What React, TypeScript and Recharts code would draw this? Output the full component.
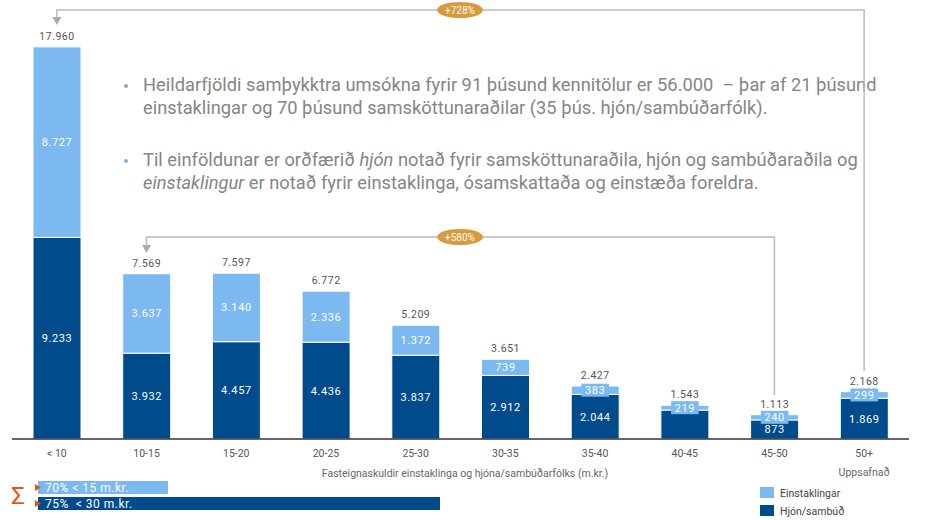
import React from 'react';
import { BarChart, Bar, XAxis, YAxis, LabelList } from 'recharts';

const categories = ['< 10', '10-15', '15-20', '20-25', '25-30', '30-35', '35-40', '40-45', '45-50', '50+'];
const hjon = [9233, 3932, 4457, 4436, 3837, 2912, 2044, 1324, 873, 1869];
const einstaklingar = [8727, 3637, 3140, 2336, 1372, 739, 383, 219, 240, 299];
const totals = [17960, 7569, 7597, 6772, 5209, 3651, 2427, 1543, 1113, 2168];
// the source leaves the 40-45 couples segment unlabelled
const hjonLabelShown = [true, true, true, true, true, true, true, false, true, true];

const DARK = '#004B8C';
const LIGHT = '#7CB9F1';
const FONT = 'Roboto, "Open Sans", sans-serif';

const W = 941;
const H = 520;
const M = { top: 46, right: 32, left: 12, bottom: 51 };
const band = (W - M.left - M.right) / categories.length;
const cx = (i: number) => M.left + band * (i + 0.5);

const fmt = (v: number) => String(v).replace(/\B(?=(\d{3})+(?!\d))/g, '.');

const data = categories.map((name, i) => ({
  name,
  hjon: hjon[i],
  einst: einstaklingar[i],
  total: totals[i],
  hjonLabel: hjonLabelShown[i] ? hjon[i] : null,
}));

const SegLabel = (props: any) => {
  const { x, y, width, height, value } = props;
  if (value == null) return null;
  const mx = x + width / 2;
  const my = y + height / 2;
  const txt = fmt(value);
  const small = height < 14;
  return (
    <g>
      {small && (
        <rect x={mx - txt.length * 3.6 - 3} y={my - 6.5} width={txt.length * 7.2 + 6} height={13} fill={LIGHT} />
      )}
      <text x={mx} y={my} dy={4} textAnchor="middle" fill="#fff" fontSize={11} fontFamily={FONT} letterSpacing={0.6}>
        {txt}
      </text>
    </g>
  );
};

const TotalLabel = (props: any) => {
  const { x, y, width, value } = props;
  return (
    <text x={x + width / 2} y={y - 11} dy={4} textAnchor="middle" fill="#555" fontSize={10.5} fontFamily={FONT} letterSpacing={0.5}>
      {fmt(value)}
    </text>
  );
};

const Pill = ({ x, y, label }: { x: number; y: number; label: string }) => (
  <g>
    <ellipse cx={x} cy={y} rx={23} ry={8} fill="#D99A3C" />
    <text x={x} y={y} dy={3.5} textAnchor="middle" fill="#fff" fontSize={10} fontFamily={FONT}>
      {label}
    </text>
  </g>
);

const Bracket = ({ from, to, y, tip, end }: { from: number; to: number; y: number; tip: number; end: number }) => {
  const x1 = cx(from);
  const x2 = cx(to);
  return (
    <g>
      <path d={`M${x1},${tip - 7} L${x1},${y} L${x2},${y} L${x2},${end}`} fill="none" stroke="#bbb" strokeWidth={1.5} />
      <path d={`M${x1 - 4.5},${tip - 8} L${x1 + 4.5},${tip - 8} L${x1},${tip} Z`} fill="#aaa" />
    </g>
  );
};

const bulletStyle: React.CSSProperties = {
  position: 'absolute',
  left: 143,
  fontFamily: FONT,
  fontSize: 18.3,
  lineHeight: '23px',
  color: '#858585',
  whiteSpace: 'nowrap',
};

const Dot = ({ top, color }: { top: number; color: string }) => (
  <div style={{ position: 'absolute', left: 124, top, width: 4, height: 4, borderRadius: 2, background: color }} />
);

const App: React.FC = () => {
  return (
    <div style={{ position: 'absolute', left: 0, top: 0, width: W, height: H, background: '#fff', overflow: 'hidden' }}>
      <BarChart width={W} height={H} data={data} margin={M} barSize={48}>
        <XAxis
          dataKey="name"
          height={30}
          axisLine={{ stroke: '#333', strokeWidth: 1.5 }}
          tickLine={false}
          tick={{ fill: '#555', fontSize: 10.5, fontFamily: FONT }}
          tickMargin={5}
        />
        <YAxis hide domain={[0, 18000]} />
        <Bar dataKey="hjon" stackId="a" fill={DARK} stroke="#fff" strokeWidth={1} isAnimationActive={false}>
          <LabelList dataKey="hjonLabel" content={SegLabel} />
        </Bar>
        <Bar dataKey="einst" stackId="a" fill={LIGHT} stroke="#fff" strokeWidth={1} isAnimationActive={false}>
          <LabelList dataKey="einst" content={SegLabel} />
          <LabelList dataKey="total" content={TotalLabel} />
        </Bar>
      </BarChart>

      <Dot top={84} color="#a0a0a0" />
      <div style={{ ...bulletStyle, top: 73 }}>
        Heildarfjöldi samþykktra umsókna fyrir 91 þúsund kennitölur er 56.000&nbsp; – þar af 21 þúsund
        <br />
        einstaklingar og 70 þúsund samsköttunaraðilar (35 þús. hjón/sambúðarfólk).
      </div>
      <Dot top={159} color="#7fb3df" />
      <div style={{ ...bulletStyle, top: 148 }}>
        Til einföldunar er orðfærið <i>hjón</i> notað fyrir samsköttunaraðila, hjón og sambúðaraðila og
        <br />
        <i>einstaklingur</i> er notað fyrir einstaklinga, ósamskattaða og einstæða foreldra.
      </div>

      <svg width={W} height={H} style={{ position: 'absolute', left: 0, top: 0, pointerEvents: 'none' }}>
        <Bracket from={0} to={9} y={10} tip={25} end={371} />
        <Pill x={460} y={10} label="+728%" />
        <Bracket from={1} to={8} y={237} tip={253} end={395} />
        <Pill x={460} y={237} label="+580%" />

        <text x={465} y={473} dy={3.5} textAnchor="middle" fill="#666" fontSize={10.5} fontFamily={FONT}>
          Fasteignaskuldir einstaklinga og hjóna/sambúðarfólks (m.kr.)
        </text>
        <text x={cx(9)} y={472} dy={3.5} textAnchor="middle" fill="#666" fontSize={10.5} fontFamily={FONT}>
          Uppsafnað
        </text>

        <text x={18} y={496} dy={8} textAnchor="middle" fill="#E0571C" fontSize={24} fontFamily={FONT}>
          Σ
        </text>
        <rect x={38} y={481} width={130} height={13} fill={LIGHT} />
        <path d="M35,484 L41,487.5 L35,491 Z" fill="#E0571C" />
        <text x={45} y={487.5} dy={4.5} fill="#fff" fontSize={12} fontFamily={FONT} letterSpacing={0.5}>
          70% &lt; 15 m.kr.
        </text>
        <rect x={38} y={497} width={402} height={13} fill={DARK} />
        <path d="M35,500 L41,503.5 L35,507 Z" fill="#E0571C" />
        <text x={45} y={503.5} dy={4.5} fill="#fff" fontSize={12} fontFamily={FONT} letterSpacing={0.5} style={{ whiteSpace: 'pre' }}>
          75%  &lt; 30 m.kr.
        </text>

        <rect x={760} y={487} width={14} height={11} fill={LIGHT} />
        <text x={780} y={492.5} dy={4} fill="#444" fontSize={10.5} fontFamily={FONT}>
          Einstaklingar
        </text>
        <rect x={760} y={505} width={14} height={11} fill={DARK} />
        <text x={780} y={510.5} dy={4} fill="#444" fontSize={10.5} fontFamily={FONT}>
          Hjón/sambúð
        </text>
      </svg>
    </div>
  );
};

export default App;
